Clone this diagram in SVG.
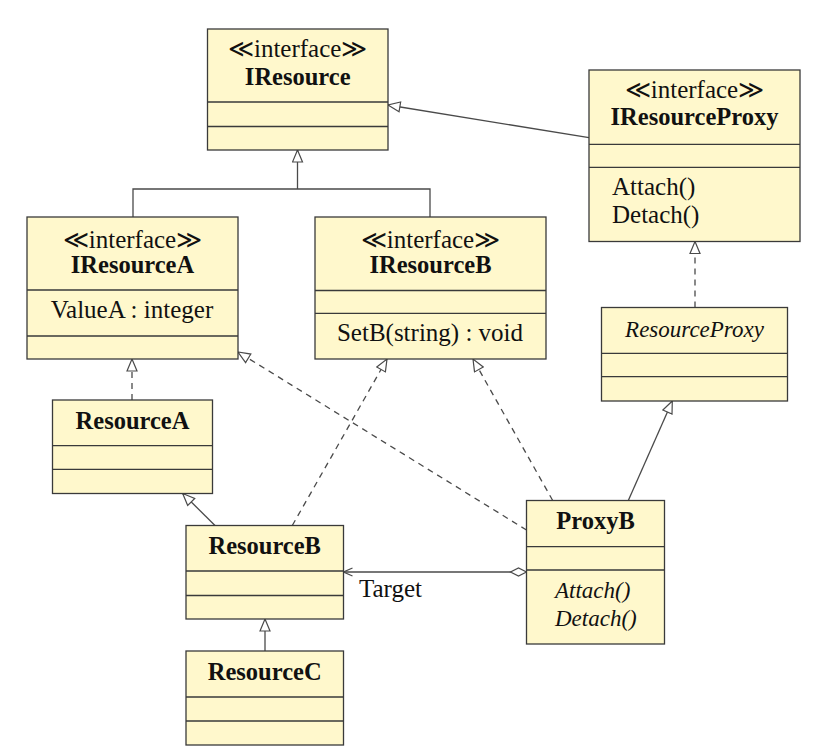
<svg xmlns="http://www.w3.org/2000/svg" width="839" height="755" viewBox="0 0 839 755">
<defs>
<style>
.box{fill:#fff8cc;stroke:#3a3a3a;stroke-width:1.3}
.div{stroke:#3a3a3a;stroke-width:1.3;fill:none}
text{font-family:"Liberation Serif","DejaVu Serif",serif;font-size:25px;fill:#111}
.c{text-anchor:middle}
.b{font-weight:bold;font-size:24.5px}
.i{font-style:italic;font-size:23px}
.ln{fill:none;stroke:#4a4a4a;stroke-width:1.3}
.ds{stroke-dasharray:6 5}
.gen{marker-end:url(#tri)}
</style>
<marker id="tri" viewBox="0 0 14 12" refX="13" refY="6" markerWidth="14" markerHeight="12" markerUnits="userSpaceOnUse" orient="auto">
<path d="M1,1 L13,6 L1,11 Z" fill="#fff" stroke="#4a4a4a" stroke-width="1.2"/>
</marker>
<marker id="open" viewBox="0 0 12 12" refX="11" refY="6" markerWidth="12" markerHeight="12" markerUnits="userSpaceOnUse" orient="auto">
<path d="M2,2 L11,6 L2,10" fill="none" stroke="#4a4a4a" stroke-width="1.2"/>
</marker>
<marker id="dia" viewBox="0 0 20 10" refX="1" refY="5" markerWidth="20" markerHeight="10" markerUnits="userSpaceOnUse" orient="auto">
<path d="M1,5 L9,1 L17,5 L9,9 Z" fill="#fff" stroke="#4a4a4a" stroke-width="1.2"/>
</marker>
</defs>
<rect width="839" height="755" fill="#fff"/>

<g id="connectors">
<path class="ln gen" d="M589,137.7 L388,105"/>
<path class="ln" d="M133,217 V189 H430 V217"/>
<path class="ln gen" d="M297.5,189 V150"/>
<path class="ln ds gen" d="M132,400 V359"/>
<path class="ln gen" d="M215,525.5 L182.7,493.5"/>
<path class="ln ds gen" d="M292.3,525.5 L387,359"/>
<path class="ln ds gen" d="M526.5,530 L238,352"/>
<path class="ln ds gen" d="M552.7,500.5 L473,359"/>
<path class="ln ds gen" d="M695,307.5 V241.5"/>
<path class="ln gen" d="M628.3,500.5 L672.3,401"/>
<path class="ln gen" d="M265,651 V619"/>
<path class="ln" d="M526.5,572 H343.5" marker-start="url(#dia)" marker-end="url(#open)"/>
<text x="359" y="597">Target</text>
</g>

<g id="IResource">
<rect class="box" x="207.5" y="29" width="180.5" height="121"/>
<path class="div" d="M207.5,102 H388 M207.5,126.5 H388"/>
<text class="c" x="297.7" y="57">≪interface≫</text>
<text class="c b" x="297.7" y="85">IResource</text>
</g>

<g id="IResourceProxy">
<rect class="box" x="589" y="70" width="211" height="171.5"/>
<path class="div" d="M589,144.3 H800 M589,167.3 H800"/>
<text class="c" x="694.5" y="97.5">≪interface≫</text>
<text class="c b" x="694.5" y="125">IResourceProxy</text>
<text x="612" y="195">Attach()</text>
<text x="612" y="223">Detach()</text>
</g>

<g id="IResourceA">
<rect class="box" x="27" y="217" width="211" height="142"/>
<path class="div" d="M27,290 H238 M27,336 H238"/>
<text class="c" x="132.5" y="248">≪interface≫</text>
<text class="c b" x="132.5" y="273">IResourceA</text>
<text class="c" x="132" y="318">ValueA : integer</text>
</g>

<g id="IResourceB">
<rect class="box" x="315" y="217" width="231" height="142"/>
<path class="div" d="M315,290.5 H546 M315,313.3 H546"/>
<text class="c" x="430.5" y="248">≪interface≫</text>
<text class="c b" x="430.5" y="273">IResourceB</text>
<text class="c" x="430" y="341">SetB(string) : void</text>
</g>

<g id="ResourceA">
<rect class="box" x="52.5" y="400" width="160" height="93.5"/>
<path class="div" d="M52.5,445.7 H212.5 M52.5,469.3 H212.5"/>
<text class="c b" x="132.5" y="429">ResourceA</text>
</g>

<g id="ResourceB">
<rect class="box" x="186" y="525.5" width="157.5" height="93.5"/>
<path class="div" d="M186,571 H343.5 M186,595.5 H343.5"/>
<text class="c b" x="264.7" y="554">ResourceB</text>
</g>

<g id="ResourceC">
<rect class="box" x="186" y="651" width="157.5" height="94"/>
<path class="div" d="M186,697 H343.5 M186,721 H343.5"/>
<text class="c b" x="264.7" y="680">ResourceC</text>
</g>

<g id="ResourceProxy">
<rect class="box" x="601.5" y="307.5" width="186" height="93.5"/>
<path class="div" d="M601.5,353.3 H787.5 M601.5,376.7 H787.5"/>
<text class="c i" x="694.5" y="337">ResourceProxy</text>
</g>

<g id="ProxyB">
<rect class="box" x="526.5" y="500.5" width="138" height="143.5"/>
<path class="div" d="M526.5,546.7 H664.5 M526.5,570 H664.5"/>
<text class="c b" x="595.5" y="528.5">ProxyB</text>
<text class="i" x="555" y="598">Attach()</text>
<text class="i" x="555" y="626">Detach()</text>
</g>
</svg>
